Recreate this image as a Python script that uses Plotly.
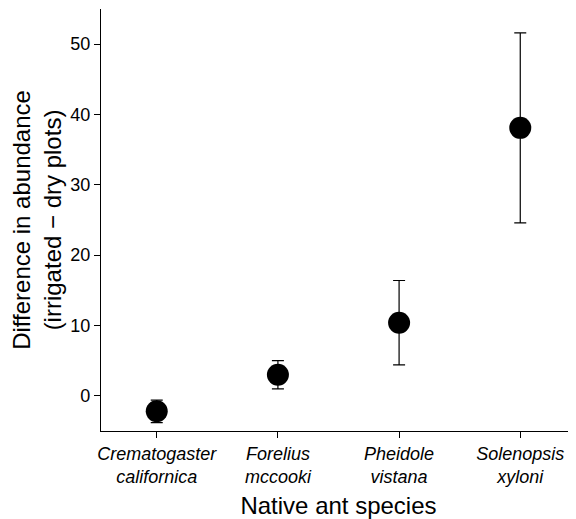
import plotly.graph_objects as go

species = ["Crematogaster<br>californica", "Forelius<br>mccooki", "Pheidole<br>vistana", "Solenopsis<br>xyloni"]
means = [-2.2, 3.0, 10.4, 38.1]
upper = [-0.6, 5.0, 16.4, 51.6]
lower = [-3.8, 1.0, 4.4, 24.6]

err_plus = [u - m for u, m in zip(upper, means)]
err_minus = [m - l for m, l in zip(means, lower)]
xpos = list(range(len(species)))

fig = go.Figure()
fig.add_trace(go.Scatter(
    x=xpos, y=means, mode="markers",
    marker=dict(color="black", size=22),
    error_y=dict(type="data", symmetric=False, array=err_plus, arrayminus=err_minus,
                 color="black", thickness=1.2, width=6),
    showlegend=False,
))

# page body has an 8px default margin, so the figure is 8px smaller
fig.update_layout(
    width=568, height=511,
    margin=dict(l=93, r=0, t=1, b=88),
    paper_bgcolor="white", plot_bgcolor="white",
    font=dict(family="Liberation Sans, Arial, sans-serif", color="black"),
    xaxis=dict(
        range=[-0.46, 3.46], tickmode="array", tickvals=xpos,
        ticktext=["<i>" + s.replace("<br>", "</i><br><i>") + "</i>" for s in species],
        showline=True, linecolor="black", linewidth=1.2, mirror=False,
        ticks="outside", ticklen=6, tickcolor="black", showgrid=False, zeroline=False,
        tickfont=dict(size=18),
        title=dict(text="Native ant species", font=dict(size=24), standoff=11),
    ),
    yaxis=dict(
        range=[-5, 55], tickvals=[0, 10, 20, 30, 40, 50],
        showline=True, linecolor="black", linewidth=1.2,
        ticks="outside", ticklen=6, tickcolor="black", showgrid=False, zeroline=False,
        tickfont=dict(size=18),
        title=dict(text="Difference in abundance<br>(irrigated \u2212 dry plots)", font=dict(size=24), standoff=6),
    ),
)

fig.write_html("out.html")
